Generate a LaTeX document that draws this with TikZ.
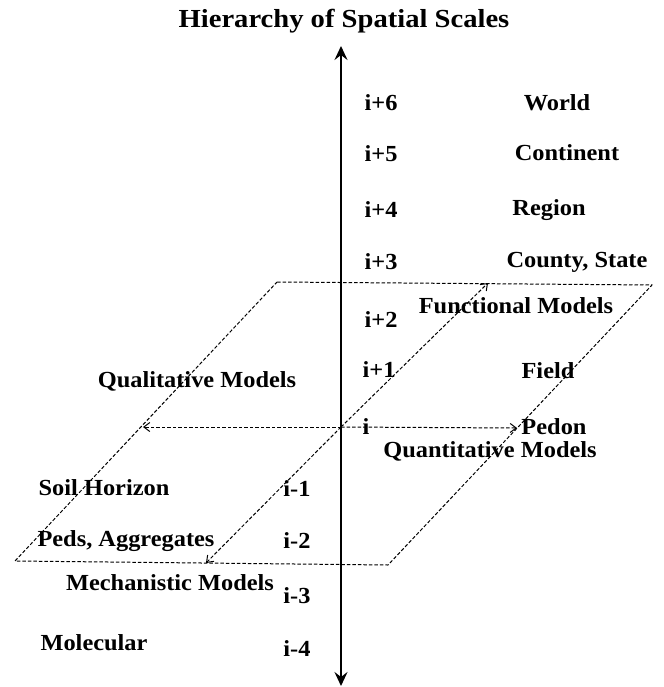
\documentclass[tikz,border=0pt]{standalone}
\usepackage{fontspec}
\setmainfont{Liberation Serif}
\newfontfamily\lblfont[FakeStretch=1.06]{Liberation Serif}
\newfontfamily\ttlfont[FakeStretch=1.1]{Liberation Serif}
\usetikzlibrary{arrows.meta}
\begin{document}
\begin{tikzpicture}[x=1pt,y=-1pt,
  lbl/.style={font=\lblfont\bfseries\fontsize{23}{26}\selectfont, inner sep=0pt},
  dsh/.style={line width=1pt, dash pattern=on 3.5pt off 2pt},
  darr/.style={dsh, -{Straight Barb[length=6pt,width=9pt]}}]
\useasboundingbox (0,0) rectangle (663,687);
\node[font=\ttlfont\bfseries\fontsize{26}{30}\selectfont, inner sep=0pt] (title) at (344,21) {Hierarchy of Spatial Scales};
% plane corners
\coordinate (tl) at (277,282);
\coordinate (tr) at (652,285);
\coordinate (br) at (388,565);
\coordinate (bl) at (15,561);
\draw[dsh] (tl) -- (tr) -- (br) -- (bl) -- cycle;
% axis
\coordinate (top) at (341,46);
\coordinate (bot) at (341,686);
\coordinate (o) at (341,427);
\draw[line width=2.8pt, {Stealth[length=14pt,width=13pt,inset=5pt]}-{Stealth[length=14pt,width=13pt,inset=5pt]}] (bot) -- (top);
% dashed axes
\coordinate (le) at (143,427);
\coordinate (re) at (517,428);
\coordinate (ue) at (488,283);
\coordinate (de) at (206,563);
\draw[darr] (o) -- (le);
\draw[darr] (o) -- (re);
\draw[darr] (o) -- (ue);
\draw[darr] (o) -- (de);
% scale labels
\node[lbl] (i6) at (381,103) {i+6};
\node[lbl] (i5) at (381,154) {i+5};
\node[lbl] (i4) at (381,210) {i+4};
\node[lbl] (i3) at (381,262) {i+3};
\node[lbl] (i2) at (381,320) {i+2};
\node[lbl] (i1) at (379,370) {i+1};
\node[lbl] (i0) at (366,427) {i};
\node[lbl] (im1) at (297,489) {i-1};
\node[lbl] (im2) at (297,541) {i-2};
\node[lbl] (im3) at (297,596) {i-3};
\node[lbl] (im4) at (297,649) {i-4};
% names
\node[lbl] (world) at (557,103) {World};
\node[lbl] (cont) at (567,153) {Continent};
\node[lbl] (reg) at (549,210) {Region};
\node[lbl] (cs) at (577,262) {County, State};
\node[lbl] (fm) at (516,306) {Functional Models};
\node[lbl] (field) at (548,371) {Field};
\node[lbl] (qm) at (197,381) {Qualitative Models};
\node[lbl] (ped) at (554,427) {Pedon};
\node[lbl] (qn) at (490,451) {Quantitative Models};
\node[lbl] (sh) at (104,488) {Soil Horizon};
\node[lbl] (pa) at (126,541) {Peds, Aggregates};
\node[lbl] (mm) at (170,583) {Mechanistic Models};
\node[lbl] (mol) at (94,643) {Molecular};
\end{tikzpicture}
\end{document}
